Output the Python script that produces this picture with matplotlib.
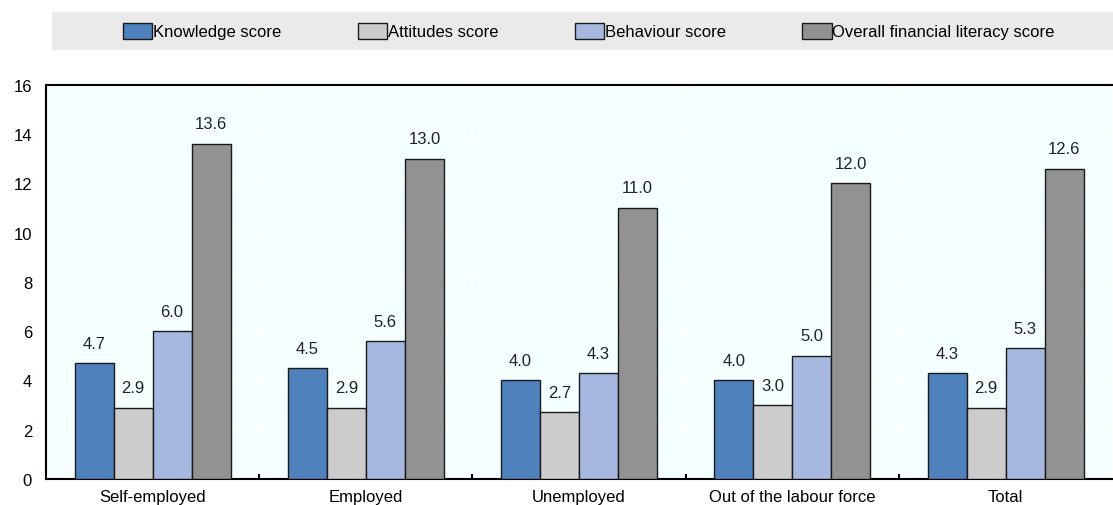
import matplotlib
matplotlib.use("Agg")
import matplotlib.pyplot as plt
import numpy as np

plt.rcParams['font.family'] = ['Liberation Sans Narrow', 'Liberation Sans', 'DejaVu Sans']

categories = ['Self-employed', 'Employed', 'Unemployed', 'Out of the labour force', 'Total']
series = ['Knowledge score', 'Attitudes score', 'Behaviour score', 'Overall financial literacy score']
knowledge = [4.7, 4.5, 4.0, 4.0, 4.3]
attitudes = [2.9, 2.9, 2.7, 3.0, 2.9]
behaviour = [6.0, 5.6, 4.3, 5.0, 5.3]
overall = [13.6, 13.0, 11.0, 12.0, 12.6]
colors = ['#4F81BD', '#CCCCCC', '#A7B8E0', '#929292']

fig = plt.figure(figsize=(11.13, 5.06), dpi=100)
ax = fig.add_axes([0.0413, 0.0514, 0.958, 0.779])
ax.set_facecolor('#F4FFFF')

x = np.arange(len(categories))
w = 0.183
for i, (vals, c) in enumerate(zip([knowledge, attitudes, behaviour, overall], colors)):
    pos = x + (i - 1.5) * w
    ax.bar(pos, vals, w, color=c, edgecolor='#1a1a1a', linewidth=1.0, label=series[i], zorder=3)
    for p, v in zip(pos, vals):
        ax.annotate(f'{v:.1f}', (p, v), xytext=(0, 9), textcoords='offset points',
                    ha='center', va='bottom', fontsize=12, color='#222222')

ax.set_xlim(-0.5, len(categories) - 0.5)
ax.set_ylim(0, 16)
ax.set_yticks(range(0, 17, 2))
ax.grid(axis='y', color='white', linewidth=1.2, zorder=0)
for b in np.arange(0.5, len(categories) - 0.5):
    ax.axvline(b, color='white', linewidth=1.2, zorder=0)
    ax.plot([b, b], [0, 0.15], color='black', linewidth=1.5, zorder=4, clip_on=False)

ax.set_xticks(x)
ax.set_xticklabels(categories, fontsize=12)
ax.tick_params(axis='x', length=0, pad=7)
ax.tick_params(axis='y', length=0, labelsize=12, pad=10)
for s in ['left', 'bottom', 'top']:
    ax.spines[s].set_color('black')
    ax.spines[s].set_linewidth(1.5)
ax.spines['right'].set_visible(False)

# legend band
band = fig.add_axes([0.0467, 0.9, 0.953, 0.075])
band.set_facecolor('#EAEAEA')
band.set_xticks([])
band.set_yticks([])
for s in band.spines.values():
    s.set_visible(False)
handles, labels = ax.get_legend_handles_labels()
fig.legend(handles, labels, loc='center', bbox_to_anchor=(0.529, 0.937), ncol=4,
           frameon=False, fontsize=12, handlelength=1.75, handleheight=1.1,
           handletextpad=0.05, columnspacing=4.6)

fig.savefig('out.png', dpi=100)
